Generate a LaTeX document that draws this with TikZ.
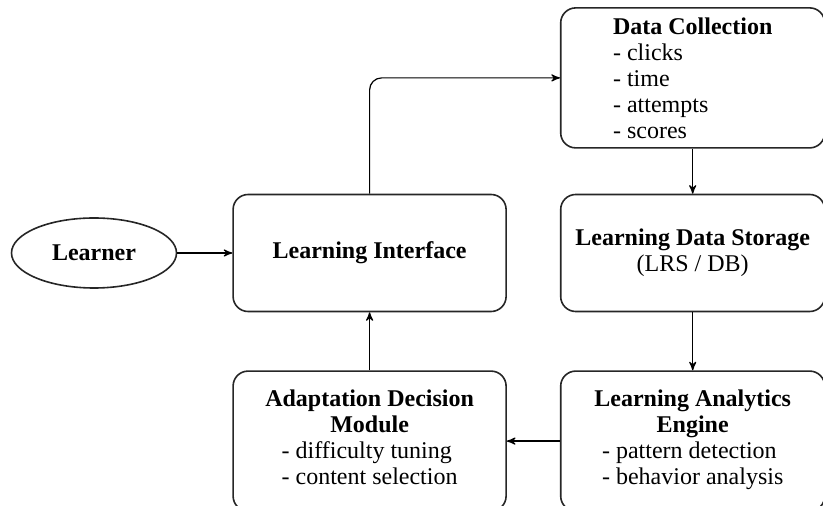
\documentclass[tikz,border=0pt]{standalone}
\usepackage{fontspec}
\setmainfont{LiberationSerif}[Extension=.ttf,UprightFont=*-Regular,BoldFont=*-Bold]
\usepackage{tikz}
\usetikzlibrary{arrows,positioning,shapes.geometric}

\begin{document}
\begin{tikzpicture}[x=0.5pt,y=-0.5pt,->,>=stealth',semithick,
                    node distance=26.5pt,
                    every node/.style={font=\fontsize{12}{13}\selectfont\rmfamily},
                    block/.style={draw=black!85,line width=0.8pt,rounded corners=7.5pt,
                                  minimum width=132pt,minimum height=58.5pt,inner sep=2pt},
                    wide/.style={block,minimum width=136.5pt},
                    entity/.style={draw=black!85,line width=0.8pt,ellipse,
                                   minimum width=82.5pt,minimum height=35pt}]
  \useasboundingbox (0,0) rectangle (823,506);
  \clip (0,0) rectangle (823,506);

  \node[entity]                                 (learner)    at (94,253) {\textbf{Learner}};
  \node[wide,right=27.5pt of learner]           (interface)  {\textbf{Learning Interface}};
  \node[block,right=of interface,align=center]  (storage)    {\textbf{Learning Data Storage}\\(LRS / DB)};
  \node[block,above=22.5pt of storage,minimum height=70pt,align=left]
                                                (collection) {\textbf{Data Collection}\\- clicks\\- time\\- attempts\\- scores};
  \node[block,below=29pt of storage,minimum height=70pt,align=center]
                                                (analytics)  {\textbf{Learning Analytics}\\\textbf{Engine}\\
                                                              \begin{tabular}[t]{@{}l@{}}- pattern detection\\- behavior analysis\end{tabular}};
  \node[wide,left=of analytics,minimum height=70pt,align=center]
                                                (adaptation) {\textbf{Adaptation Decision}\\\textbf{Module}\\
                                                              \begin{tabular}[t]{@{}l@{}}- difficulty tuning\\- content selection\end{tabular}};

  \path (learner)    edge (interface)
        (collection) edge (storage)
        (storage)    edge (analytics)
        (analytics)  edge (adaptation)
        (adaptation) edge (interface);
  \draw[rounded corners=6pt] (interface.north) |- (collection.west);

\end{tikzpicture}
\end{document}
